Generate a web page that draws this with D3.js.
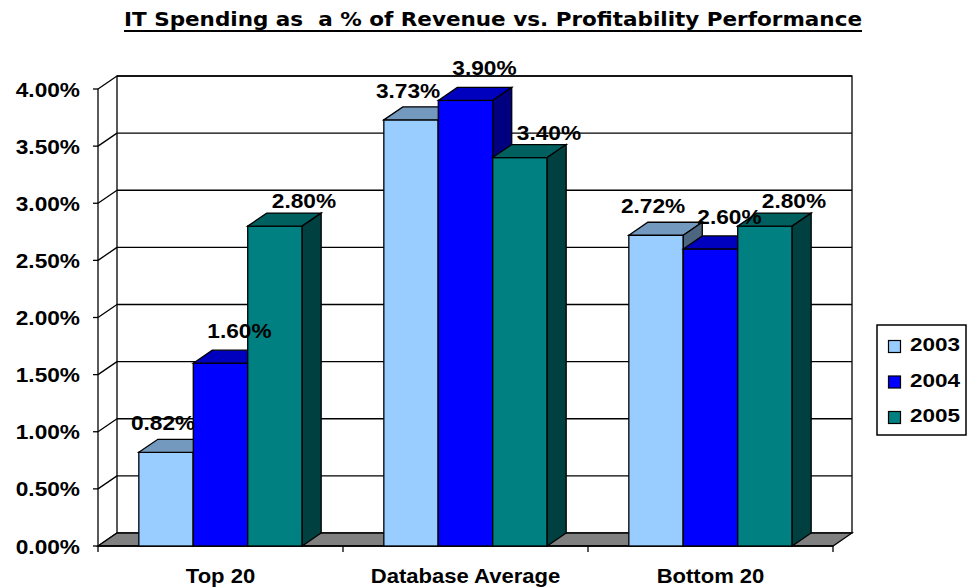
<!DOCTYPE html>
<html>
<head>
<meta charset="utf-8">
<script src="https://cdn.jsdelivr.net/npm/d3@7"></script>
<style>
  body { margin: 0; background: #fff; }
  text { font-family: "Liberation Sans", Arial, sans-serif; font-weight: bold; fill: #000; }
</style>
</head>
<body>
<div id="chart"></div>
<script>
// chart data
var categories = ["Top 20", "Database Average", "Bottom 20"];
var seriesNames = ["2003", "2004", "2005"];
var values2003 = [0.82, 3.73, 2.72];
var values2004 = [1.60, 3.90, 2.60];
var values2005 = [2.80, 3.40, 2.80];
var yTicks = [0, 0.5, 1, 1.5, 2, 2.5, 3, 3.5, 4];
var title = "IT Spending as  a % of Revenue vs. Profitability Performance";

var seriesValues = [values2003, values2004, values2005];
var colors = ["#99ccff", "#0000ff", "#008080"];

var width = 968, height = 588;

// plot geometry (front plane)
var plotLeft = 98, plotRight = 833, plotBottom = 546, plotTop = 89;
var depthX = 19, depthY = -13;
var stretch = 1.08;

// per-series label nudges (excel puts them a bit off)
var labelDx = [-3, 19, 29];
var labelDy = [-9, -12, -5];

var svg = d3.select("#chart")
  .append("svg")
  .attr("width", width)
  .attr("height", height);

var y = d3.scaleLinear().domain([0, 4]).range([plotBottom, plotTop]);

var x0 = d3.scaleBand()
  .domain(categories)
  .range([plotLeft, plotRight]);

var x1 = d3.scaleBand()
  .domain(seriesNames)
  .range([0, x0.bandwidth()])
  .paddingInner(0)
  .paddingOuter(0.75);

function shade(c, k) {
  var col = d3.rgb(c);
  return d3.rgb(col.r * k, col.g * k, col.b * k).toString();
}

function stretchedText(parent, x, yy, str, size, anchor, sx) {
  return parent.append("text")
    .attr("transform", "translate(" + x + "," + yy + ") scale(" + sx + ",1)")
    .attr("text-anchor", anchor)
    .style("font-size", size + "px")
    .text(str);
}

// title
svg.append("text")
  .attr("x", 493)
  .attr("y", 26)
  .attr("text-anchor", "middle")
  .attr("textLength", 738)
  .attr("lengthAdjust", "spacingAndGlyphs")
  .style("font-family", "'DejaVu Sans', Verdana, sans-serif")
  .style("font-size", "19px")
  .style("white-space", "pre")
  .text(title);

svg.append("line")
  .attr("x1", 124).attr("x2", 862)
  .attr("y1", 31).attr("y2", 31)
  .attr("stroke", "#000")
  .attr("stroke-width", 2);

var walls = svg.append("g").attr("stroke", "#000").attr("stroke-width", 1.3).attr("fill", "none");

// back wall
walls.append("rect")
  .attr("x", plotLeft + depthX)
  .attr("y", plotTop + depthY)
  .attr("width", plotRight - plotLeft)
  .attr("height", plotBottom - plotTop)
  .attr("fill", "#fff");

// gridlines on back wall and the left side wall
walls.selectAll(".grid")
  .data(yTicks.slice(1))
  .enter()
  .append("line")
  .attr("class", "grid")
  .attr("x1", plotLeft + depthX)
  .attr("x2", plotRight + depthX)
  .attr("y1", function(d) { return y(d) + depthY; })
  .attr("y2", function(d) { return y(d) + depthY; });

walls.selectAll(".side")
  .data(yTicks)
  .enter()
  .append("line")
  .attr("class", "side")
  .attr("x1", plotLeft)
  .attr("x2", plotLeft + depthX)
  .attr("y1", function(d) { return y(d); })
  .attr("y2", function(d) { return y(d) + depthY; });

// floor
walls.append("polygon")
  .attr("points", [[plotLeft, plotBottom], [plotRight, plotBottom], [plotRight + depthX, plotBottom + depthY], [plotLeft + depthX, plotBottom + depthY]].join(" "))
  .attr("fill", "#808080");

// front y axis
walls.append("line")
  .attr("x1", plotLeft).attr("x2", plotLeft)
  .attr("y1", y(4)).attr("y2", plotBottom);

walls.selectAll(".ytick")
  .data(yTicks)
  .enter()
  .append("line")
  .attr("class", "ytick")
  .attr("x1", plotLeft - 5).attr("x2", plotLeft)
  .attr("y1", function(d) { return y(d); })
  .attr("y2", function(d) { return y(d); });

// x axis ticks at category boundaries
var bounds = categories.map(function(c) { return x0(c); }).concat([plotRight]);
walls.append("line")
  .attr("x1", plotLeft).attr("x2", plotRight)
  .attr("y1", plotBottom).attr("y2", plotBottom);

walls.selectAll(".xtick")
  .data(bounds)
  .enter()
  .append("line")
  .attr("class", "xtick")
  .attr("x1", function(d) { return d; })
  .attr("x2", function(d) { return d; })
  .attr("y1", plotBottom).attr("y2", plotBottom + 6);

// y labels
yTicks.forEach(function(t) {
  stretchedText(svg, 80, y(t) + 7.5, t.toFixed(2) + "%", 21, "end", stretch);
});

// category labels
categories.forEach(function(c) {
  stretchedText(svg, x0(c) + x0.bandwidth() / 2, 583, c, 21, "middle", 1.05);
});

// bars, drawn left to right so later bars hide earlier sides
var bars = svg.append("g").attr("stroke", "#000").attr("stroke-width", 1.3);

categories.forEach(function(c, ci) {
  seriesNames.forEach(function(s, si) {
    var v = seriesValues[si][ci];
    var bx = x0(c) + x1(s);
    var bw = x1.bandwidth();
    var by = y(v);
    var col = colors[si];

    bars.append("rect")
      .attr("x", bx).attr("y", by)
      .attr("width", bw).attr("height", plotBottom - by)
      .attr("fill", col);

    bars.append("polygon")
      .attr("points", [[bx, by], [bx + depthX, by + depthY], [bx + bw + depthX, by + depthY], [bx + bw, by]].join(" "))
      .attr("fill", shade(col, 0.75));

    bars.append("polygon")
      .attr("points", [[bx + bw, by], [bx + bw + depthX, by + depthY], [bx + bw + depthX, plotBottom + depthY], [bx + bw, plotBottom]].join(" "))
      .attr("fill", shade(col, 0.5));
  });
});

// data labels on top
categories.forEach(function(c, ci) {
  seriesNames.forEach(function(s, si) {
    var v = seriesValues[si][ci];
    var cx = x0(c) + x1(s) + x1.bandwidth() / 2;
    stretchedText(svg, cx + labelDx[si], y(v) + depthY + labelDy[si], v.toFixed(2) + "%", 21, "middle", stretch);
  });
});

// legend
var legend = svg.append("g");
legend.append("rect")
  .attr("x", 877).attr("y", 325)
  .attr("width", 89).attr("height", 110)
  .attr("fill", "#fff")
  .attr("stroke", "#000")
  .attr("stroke-width", 1.5);

var legendItem = legend.selectAll(".legend")
  .data(seriesNames)
  .enter()
  .append("g")
  .attr("class", "legend")
  .attr("transform", function(d, i) { return "translate(0," + i * 35.5 + ")"; });

legendItem.append("rect")
  .attr("x", 888.5).attr("y", 340.5)
  .attr("width", 12).attr("height", 12)
  .attr("fill", function(d, i) { return colors[i]; })
  .attr("stroke", "#000")
  .attr("stroke-width", 1.2);

legendItem.each(function(d) {
  stretchedText(d3.select(this), 910, 351, d, 18, "start", 1.25);
});
</script>
</body>
</html>
